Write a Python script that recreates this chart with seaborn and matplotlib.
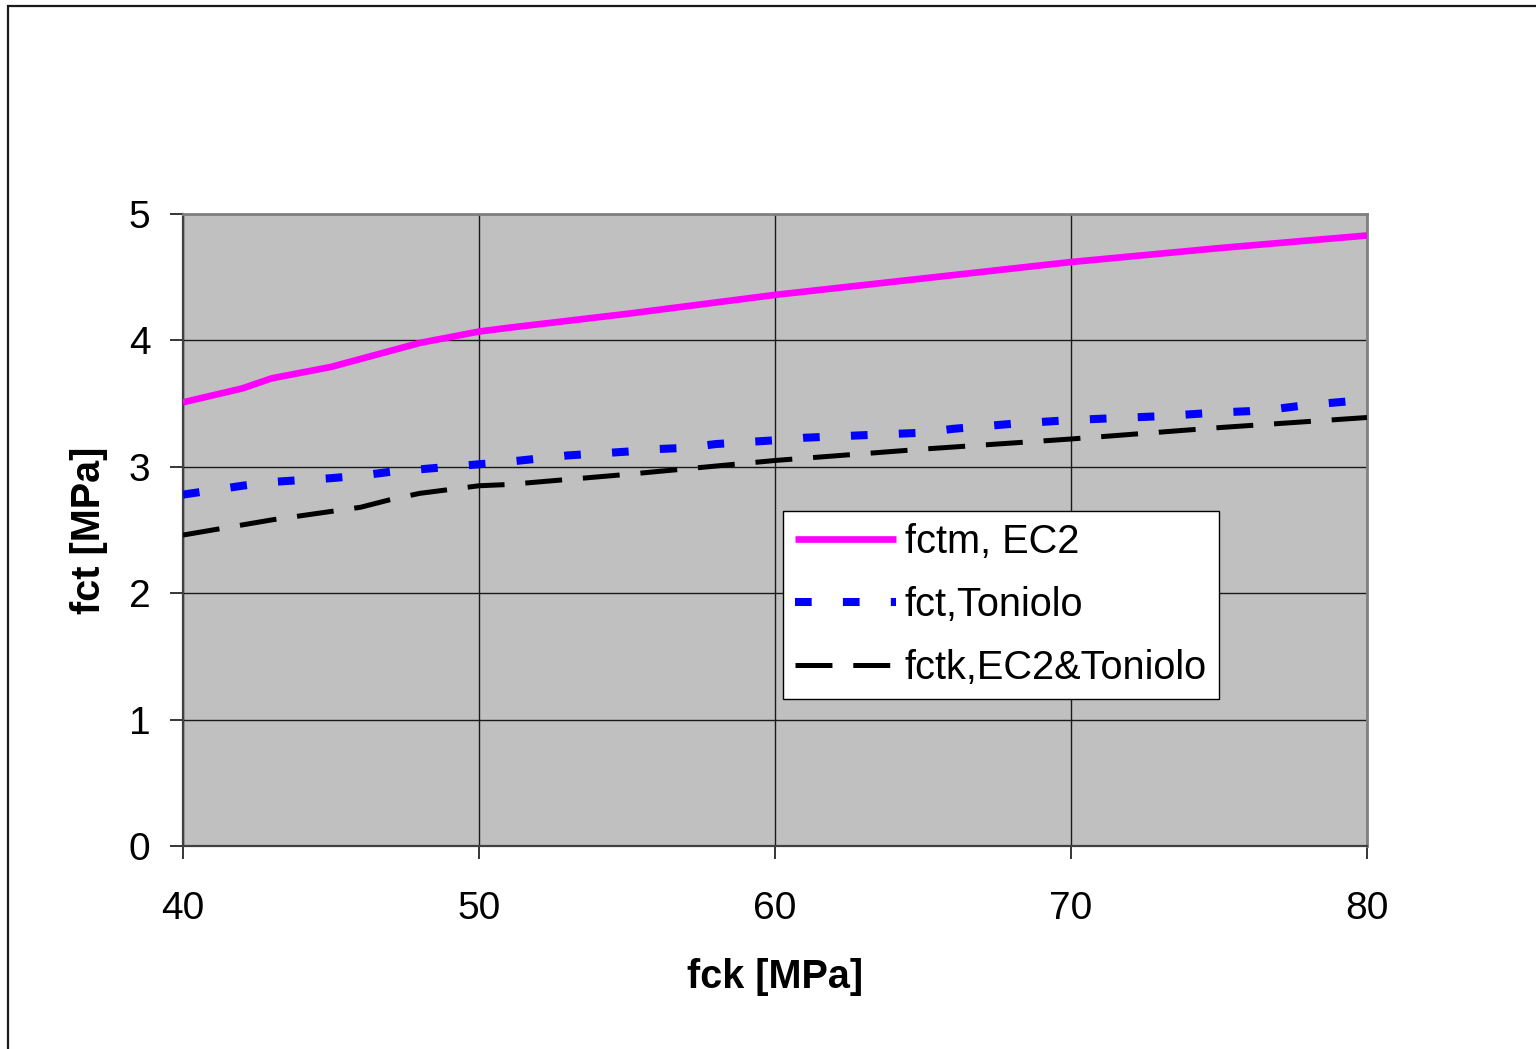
import matplotlib
matplotlib.use("Agg")
import matplotlib.pyplot as plt
from matplotlib.patches import Rectangle
import seaborn as sns
import pandas as pd

# Tensile strength of concrete vs. characteristic compressive strength
fck_ec2 = [40, 42, 43, 45, 48, 50, 51, 55, 60, 65, 70, 75, 80]
fctm_ec2 = [3.51, 3.62, 3.70, 3.79, 3.98, 4.07, 4.10, 4.21, 4.36, 4.49, 4.62, 4.73, 4.83]

fck_ton = [40, 42, 43, 45, 46, 47, 48, 50, 51, 53, 55, 56, 57, 58, 60, 61, 63,
           65, 66, 68, 70, 71, 73, 75, 76, 77, 78, 80]
fct_ton = [2.78, 2.85, 2.88, 2.91, 2.93, 2.96, 2.98, 3.02, 3.04, 3.09, 3.12, 3.14,
           3.15, 3.18, 3.21, 3.23, 3.25, 3.27, 3.30, 3.34, 3.37, 3.38, 3.40, 3.43,
           3.44, 3.46, 3.49, 3.53]

fck_k = [40, 43, 46, 47, 48, 50, 51, 55, 60, 65, 70, 75, 80]
fctk = [2.46, 2.58, 2.68, 2.74, 2.79, 2.85, 2.86, 2.94, 3.05, 3.14, 3.22, 3.31, 3.39]

series_names = ["fctm, EC2", "fct,Toniolo", "fctk,EC2&Toniolo"]
x_ticks = [40, 50, 60, 70, 80]
y_ticks = [0, 1, 2, 3, 4, 5]

sns.set_theme(style="white")
plt.rcParams["font.family"] = ["Liberation Sans", "DejaVu Sans"]
plt.rcParams["lines.scale_dashes"] = False
plt.rcParams["text.color"] = "black"
plt.rcParams["axes.labelcolor"] = "black"

fig = plt.figure(figsize=(15.36, 10.49), dpi=100)
ax = fig.add_axes([183 / 1536, 1 - 846 / 1049, (1367 - 183) / 1536, (846 - 214) / 1049])
ax.set_facecolor("#c0c0c0")

# outer chart frame
fig.patches.append(Rectangle((8 / 1536, -0.1), 1.2, 1.1 - 6 / 1049,
                             transform=fig.transFigure, fill=False,
                             edgecolor="#1a1a1a", lw=1.6, zorder=0))

df_ec2 = pd.DataFrame({"fck": fck_ec2, "fct": fctm_ec2})
df_ton = pd.DataFrame({"fck": fck_ton, "fct": fct_ton})
df_k = pd.DataFrame({"fck": fck_k, "fct": fctk})

sns.lineplot(data=df_ec2, x="fck", y="fct", ax=ax, color="#ff00ff", lw=4.8,
             label=series_names[0], solid_capstyle="butt", zorder=5)
sns.lineplot(data=df_ton, x="fck", y="fct", ax=ax, color="#0000ff", lw=5.8,
             label=series_names[1], linestyle=(0, (12, 22.5)),
             dash_capstyle="butt", zorder=4)
sns.lineplot(data=df_k, x="fck", y="fct", ax=ax, color="#000000", lw=3.6,
             label=series_names[2], linestyle=(0, (26.6, 15)),
             dash_capstyle="butt", zorder=4)

ax.set_xlim(40, 80)
ax.set_ylim(0, 5)
ax.set_xticks(x_ticks)
ax.set_yticks(y_ticks)
ax.grid(True, color="#1a1a1a", lw=1.0)
ax.set_axisbelow(True)

for side in ["top", "right"]:
    ax.spines[side].set_color("#808080")
    ax.spines[side].set_linewidth(2.0)
for side in ["left", "bottom"]:
    ax.spines[side].set_color("#404040")
    ax.spines[side].set_linewidth(1.6)

ax.tick_params(axis="both", direction="out", length=9.4, width=1.1,
               color="black", labelsize=28, labelcolor="black")
ax.tick_params(axis="x", pad=23)
ax.tick_params(axis="y", pad=14)
ax.xaxis.set_ticks_position("bottom")
ax.yaxis.set_ticks_position("left")

ax.set_xlabel("fck [MPa]", fontsize=28.5, fontweight="bold", labelpad=22,
              color="black")
ax.set_ylabel("fct [MPa]", fontsize=28.5, fontweight="bold", labelpad=15,
              color="black")

leg = ax.legend(loc="upper left", bbox_to_anchor=(783 / 1536, 1 - 511 / 1049),
                bbox_transform=fig.transFigure, fontsize=28.6, frameon=True,
                fancybox=False, framealpha=1, edgecolor="black",
                handlelength=2.55, handletextpad=0.22, labelspacing=0.63,
                borderpad=0.3, borderaxespad=0)
leg.get_frame().set_linewidth(1.0)
leg.set_zorder(10)

fig.savefig("out.png", dpi=100, facecolor="white")
